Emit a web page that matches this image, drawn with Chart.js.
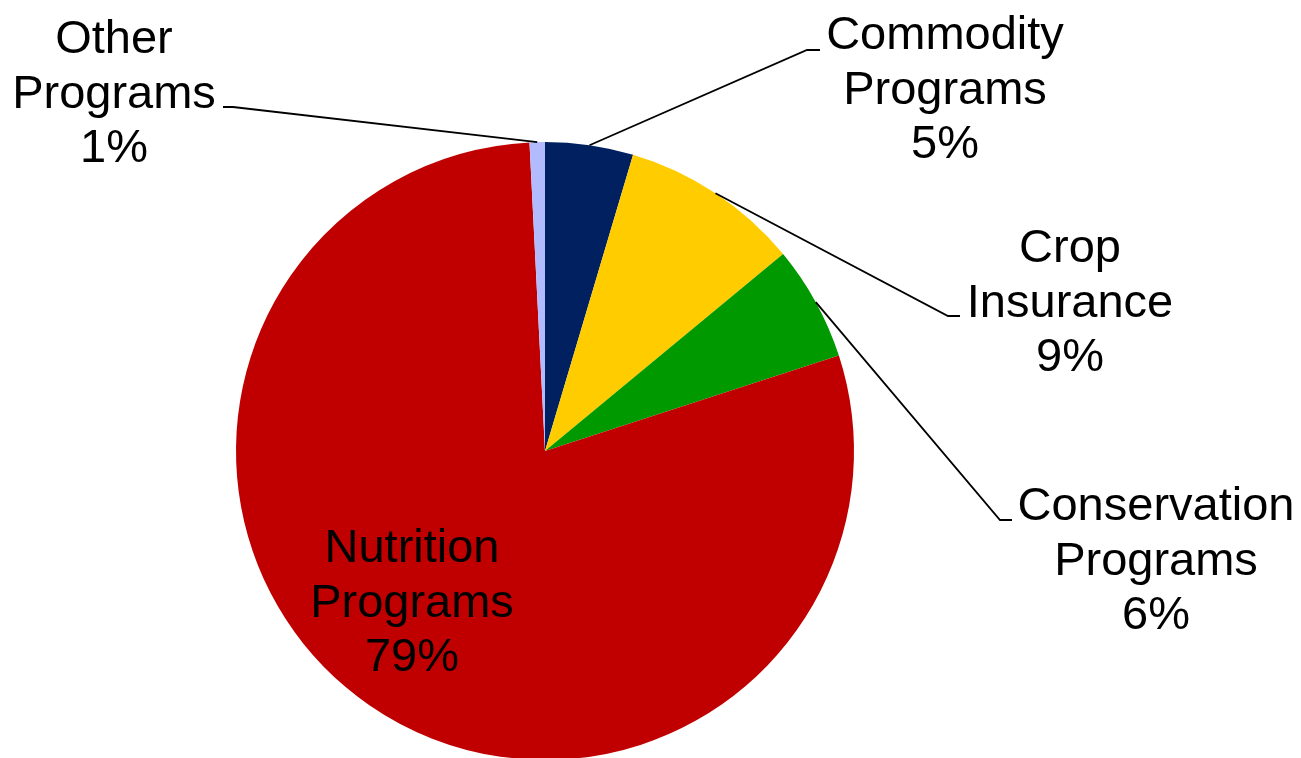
<!DOCTYPE html>
<html>
<head>
<meta charset="utf-8">
<script src="https://cdn.jsdelivr.net/npm/chart.js@4.4.0/dist/chart.umd.min.js"></script>
<style>
  html, body { margin: 0; padding: 0; background: #ffffff; overflow: hidden; }
  #wrap { position: relative; width: 1301px; height: 800px; }
</style>
</head>
<body>
<div id="wrap"><canvas id="c"></canvas></div>
<script>
// ---- Data ----
const categories = [
  ["Commodity", "Programs"],
  ["Crop", "Insurance"],
  ["Conservation", "Programs"],
  ["Nutrition", "Programs"],
  ["Other", "Programs"]
];
const shares = [4.6, 9.4, 6.0, 79.2, 0.8];
const colors = ["#002060", "#FFCC00", "#009900", "#C00000", "#B3BBFF"];

// ---- Label layout (positions only) ----
const labelLayout = [
  { cx: 945,  b0: 49,  elbow: [807, 50],  end: [820, 50] },
  { cx: 1070, b0: 262, elbow: [948, 316], end: [960, 316] },
  { cx: 1156, b0: 520, elbow: [1000, 520], end: [1012, 520] },
  { cx: 412,  b0: 562, elbow: null, end: null },
  { cx: 114,  b0: 53,  elbow: [233, 107], end: [223, 107] }
];
const LINE_H = 54.7;
const FONT = '47px "Liberation Sans", Arial, sans-serif';

const labelPlugin = {
  id: 'pieLabels',
  afterDatasetsDraw(chart) {
    const ctx = chart.ctx;
    const meta = chart.getDatasetMeta(0);
    const data = chart.data.datasets[0].data;
    const total = data.reduce((a, b) => a + b, 0);
    ctx.save();
    meta.data.forEach((arc, i) => {
      const L = labelLayout[i];
      const p = arc.getProps(['x', 'y', 'startAngle', 'endAngle', 'outerRadius'], true);
      const mid = (p.startAngle + p.endAngle) / 2;
      if (L.elbow) {
        const ax = p.x + Math.cos(mid) * p.outerRadius;
        const ay = p.y + Math.sin(mid) * p.outerRadius;
        ctx.beginPath();
        ctx.strokeStyle = '#000000';
        ctx.lineWidth = 1.8;
        ctx.moveTo(ax, ay);
        ctx.lineTo(L.elbow[0], L.elbow[1]);
        ctx.lineTo(L.end[0], L.end[1]);
        ctx.stroke();
      }
      const pct = Math.round(data[i] / total * 100) + '%';
      const lines = categories[i].concat([pct]);
      ctx.fillStyle = '#000000';
      ctx.font = FONT;
      ctx.textAlign = 'center';
      ctx.textBaseline = 'alphabetic';
      lines.forEach((t, k) => ctx.fillText(t, L.cx, L.b0 + k * LINE_H));
    });
    ctx.restore();
  }
};

new Chart(document.getElementById('c'), {
  type: 'pie',
  data: {
    labels: categories.map(c => c.join(' ')),
    datasets: [{
      data: shares,
      backgroundColor: colors,
      borderWidth: 0
    }]
  },
  options: {
    responsive: true,
    maintainAspectRatio: false,
    animation: false,
    layout: { padding: { left: 236, right: 447, top: 142, bottom: 40 } },
    plugins: {
      legend: { display: false },
      tooltip: { enabled: false },
      title: { display: false }
    }
  },
  plugins: [labelPlugin]
});
</script>
</body>
</html>
